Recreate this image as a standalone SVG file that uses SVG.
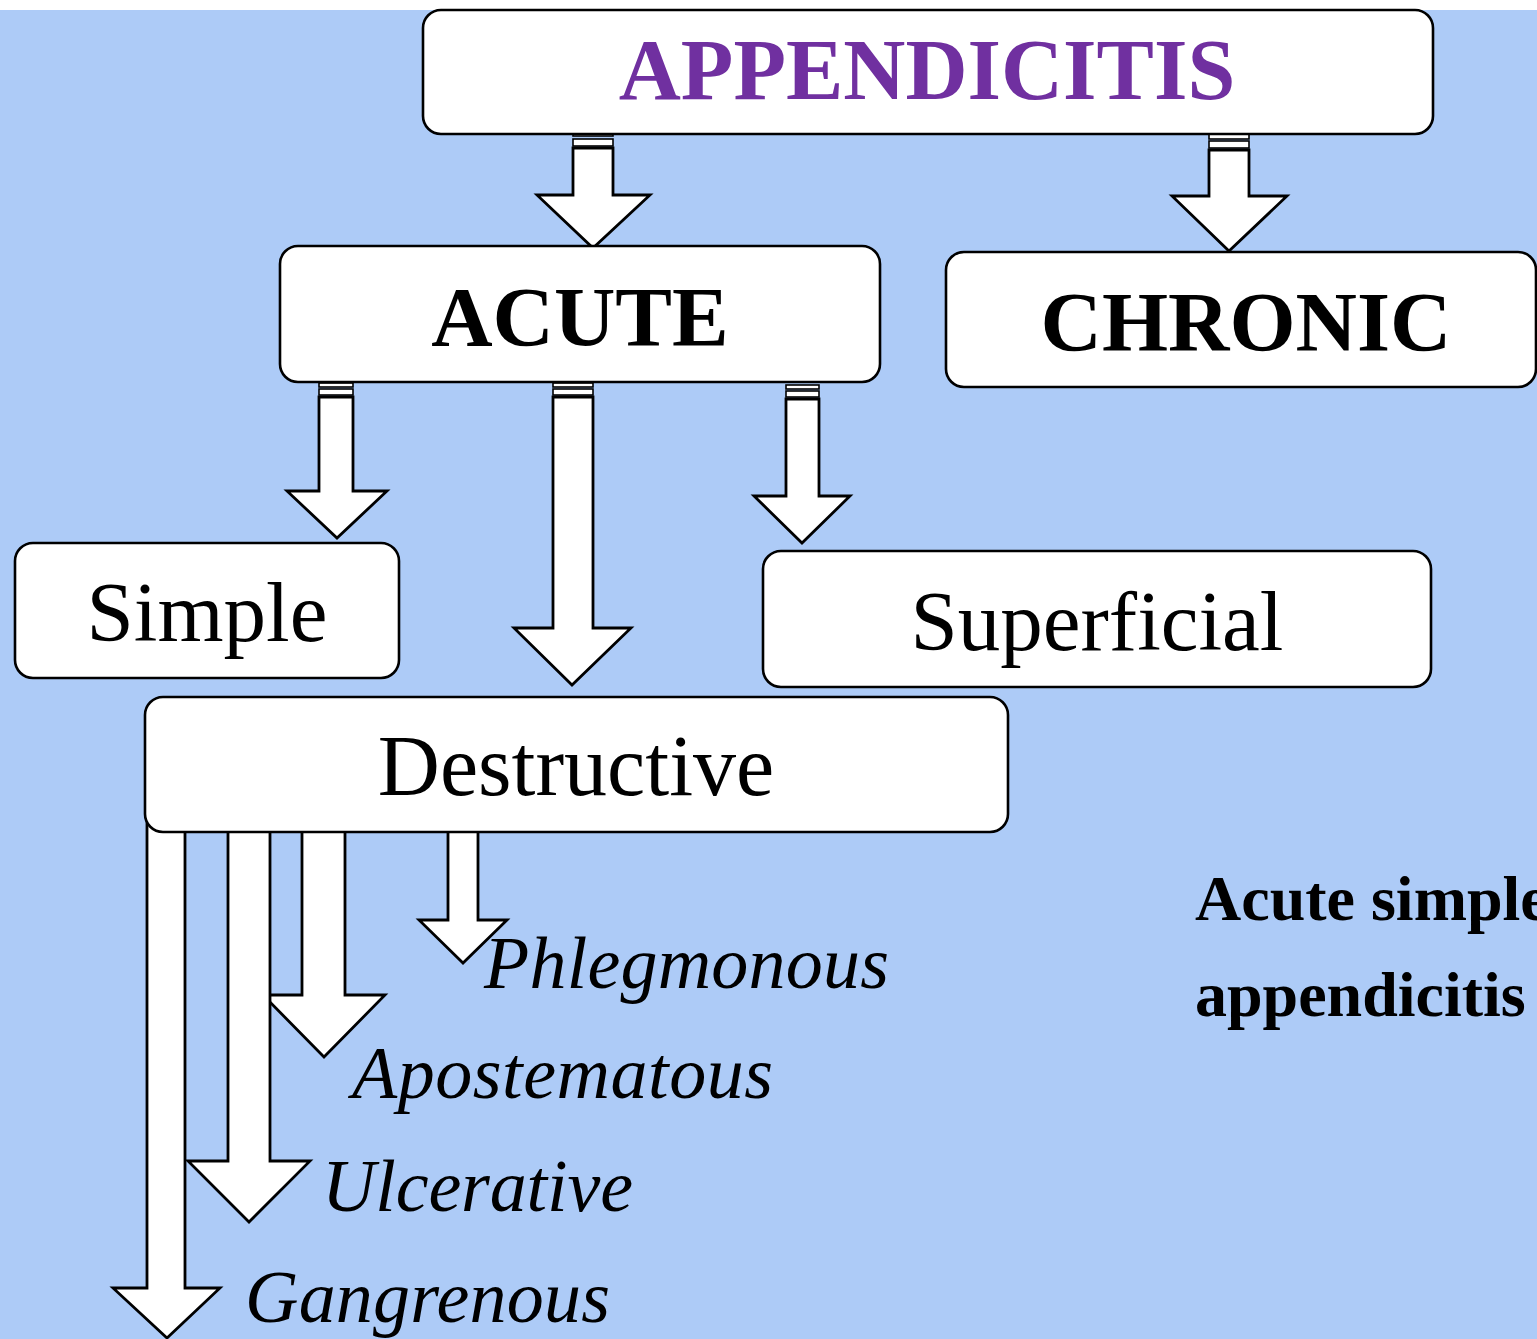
<svg xmlns="http://www.w3.org/2000/svg" width="1537" height="1339" viewBox="0 0 1537 1339">
  <style>
    .box { fill: #ffffff; stroke: #000000; stroke-width: 2.6; }
    .arrow { fill: #ffffff; stroke: #000000; stroke-width: 2.8; stroke-linejoin: miter; }
    .stripe { fill: #ffffff; stroke: #000000; stroke-width: 1.6; }
    .bold { font-family: "Liberation Serif", "Times New Roman", serif; font-weight: bold; text-anchor: middle; }
    .plain { font-family: "Liberation Serif", "Times New Roman", serif; text-anchor: middle; }
    .ital { font-family: "Liberation Serif", "Times New Roman", serif; font-style: italic; }
  </style>

  <!-- page background -->
  <rect x="0" y="0" width="1537" height="1339" fill="#ffffff"/>
  <rect x="0" y="10" width="1537" height="1329" fill="#adcbf7"/>

  <!-- connectors -->
  <g id="connectors">
    <!-- APPENDICITIS -> ACUTE -->
    <g id="c-app-acute">
      <rect class="stripe" x="573" y="131" width="40" height="5"/>
      <rect class="stripe" x="573" y="139" width="40" height="7"/>
      <path class="arrow" d="M573,148 H613 V195 H650 L593,248 L537,195 H573 Z"/>
    </g>
    <!-- APPENDICITIS -> CHRONIC -->
    <g id="c-app-chronic">
      <rect class="stripe" x="1209" y="134" width="40" height="5"/>
      <rect class="stripe" x="1209" y="141" width="40" height="7"/>
      <path class="arrow" d="M1209,150 H1249 V196 H1287 L1229,251 L1172,196 H1209 Z"/>
    </g>
    <!-- ACUTE -> Simple -->
    <g id="c-acute-simple">
      <rect class="stripe" x="319" y="383" width="34" height="4"/>
      <rect class="stripe" x="319" y="389" width="34" height="6"/>
      <path class="arrow" d="M319,397 H353 V491 H387 L337,538 L287,491 H319 Z"/>
    </g>
    <!-- ACUTE -> Destructive -->
    <g id="c-acute-destructive">
      <rect class="stripe" x="553" y="383" width="40" height="4"/>
      <rect class="stripe" x="553" y="389" width="40" height="6"/>
      <path class="arrow" d="M553,397 H593 V628 H631 L572,685 L514,628 H553 Z"/>
    </g>
    <!-- ACUTE -> Superficial -->
    <g id="c-acute-superficial">
      <rect class="stripe" x="786" y="385" width="33" height="4"/>
      <rect class="stripe" x="786" y="391" width="33" height="6"/>
      <path class="arrow" d="M786,399 H819 V496 H850 L802,543 L754,496 H786 Z"/>
    </g>
    <!-- Destructive -> forms -->
    <path id="c-phlegmonous" class="arrow" d="M448,820 H478 V920 H507 L463,963 L419,920 H448 Z"/>
    <path id="c-apostematous" class="arrow" d="M302,820 H345 V995 H385 L324,1057 L263,995 H302 Z"/>
    <path id="c-ulcerative" class="arrow" d="M228,820 H270 V1161 H310 L249,1222 L188,1161 H228 Z"/>
    <path id="c-gangrenous" class="arrow" d="M147,820 H185 V1288 H220 L167,1338 L113,1288 H147 Z"/>
  </g>

  <!-- nodes -->
  <g id="appendicitis">
    <rect class="box" x="423" y="10" width="1010" height="124" rx="18"/>
    <text class="bold" x="927" y="99" font-size="86" fill="#7030a0">APPENDICITIS</text>
  </g>
  <g id="acute">
    <rect class="box" x="280" y="246" width="600" height="136" rx="18"/>
    <text class="bold" x="580" y="346" font-size="85" fill="#000000">ACUTE</text>
  </g>
  <g id="chronic">
    <rect class="box" x="946" y="252" width="590" height="135" rx="18"/>
    <text class="bold" x="1246" y="351" font-size="85" fill="#000000">CHRONIC</text>
  </g>
  <g id="simple">
    <rect class="box" x="15" y="543" width="384" height="135" rx="18"/>
    <text class="plain" x="207" y="641" font-size="85" fill="#000000">Simple</text>
  </g>
  <g id="superficial">
    <rect class="box" x="763" y="551" width="668" height="136" rx="18"/>
    <text class="plain" x="1097" y="650" font-size="85" fill="#000000">Superficial</text>
  </g>
  <g id="destructive">
    <rect class="box" x="145" y="697" width="863" height="135" rx="18"/>
    <text class="plain" x="576" y="795" font-size="86" fill="#000000">Destructive</text>
  </g>

  <!-- labels of the destructive forms -->
  <g id="phlegmonous">
    <text class="ital" x="484" y="988" font-size="74" textLength="405" lengthAdjust="spacing">Phlegmonous</text>
  </g>
  <g id="apostematous">
    <text class="ital" x="352" y="1098" font-size="74" textLength="421" lengthAdjust="spacing">Apostematous</text>
  </g>
  <g id="ulcerative">
    <text class="ital" x="322" y="1211" font-size="74" textLength="311" lengthAdjust="spacing">Ulcerative</text>
  </g>
  <g id="gangrenous">
    <text class="ital" x="245" y="1322" font-size="74" textLength="365" lengthAdjust="spacing">Gangrenous</text>
  </g>

  <!-- side caption -->
  <g id="caption">
    <text x="1195" y="920" font-family="Liberation Serif, Times New Roman, serif" font-weight="bold" font-size="64" fill="#000000">Acute simple</text>
    <text x="1195" y="1016" font-family="Liberation Serif, Times New Roman, serif" font-weight="bold" font-size="64" fill="#000000">appendicitis</text>
  </g>
</svg>
